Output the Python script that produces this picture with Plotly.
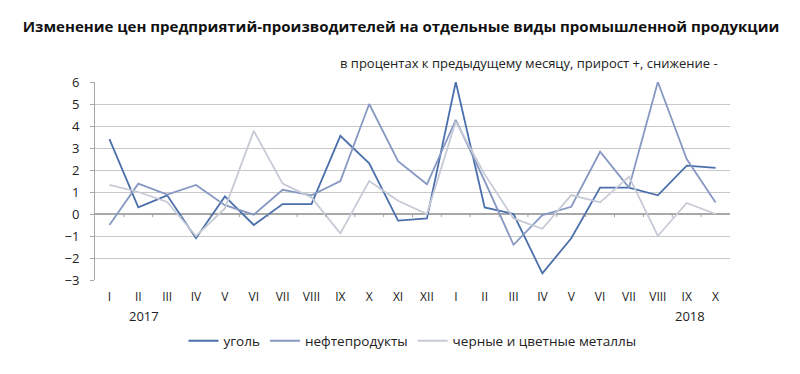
import plotly.graph_objects as go

months = ["I", "II", "III", "IV", "V", "VI", "VII", "VIII", "IX", "X", "XI", "XII",
          "I", "II", "III", "IV", "V", "VI", "VII", "VIII", "IX", "X"]
years = ["2017", "2018"]

coal = [3.4, 0.3, 0.85, -1.1, 0.8, -0.5, 0.45, 0.45, 3.55, 2.3, -0.3, -0.2,
        6.0, 0.3, 0.0, -2.7, -1.1, 1.2, 1.2, 0.85, 2.2, 2.1]
oil = [-0.5, 1.38, 0.88, 1.32, 0.4, -0.03, 1.1, 0.85, 1.5, 5.0, 2.4, 1.35,
       4.28, 1.5, -1.4, -0.05, 0.33, 2.83, 1.2, 6.0, 2.5, 0.52]
metals = [1.32, 1.0, 0.55, -1.0, 0.25, 3.78, 1.38, 0.75, -0.88, 1.5, 0.6, 0.0,
          4.2, 1.8, -0.2, -0.67, 0.86, 0.53, 1.7, -1.0, 0.5, 0.0]

names = ["уголь", "нефтепродукты", "черные и цветные металлы"]
colors = ["#4a6fab", "#8799c2", "#c5cad6"]
series = [coal, oil, metals]

idx = list(range(len(months)))
boundaries = [i + 0.5 for i in idx[:-1]]

FONT = "Open Sans"
OFF = 8  # page body margin offset

fig = go.Figure()
for name, vals, col in zip(names, series, colors):
    fig.add_trace(go.Scatter(x=idx, y=vals, mode="lines", name=name,
                             line=dict(color=col, width=1.8)))

fig.update_layout(
    width=800, height=374,
    margin=dict(l=95 - OFF, r=800 - (730 - OFF), t=82 - OFF, b=374 - (280 - OFF)),
    paper_bgcolor="white", plot_bgcolor="white",
    font=dict(family=FONT, color="#222"),
    title=dict(text="<b>Изменение цен предприятий-производителей на отдельные виды промышленной продукции</b>",
               x=(401 - OFF) / 800, xref="container", xanchor="center",
               y=1 - (27 - OFF) / 374, yref="container", yanchor="middle",
               font=dict(family=FONT, size=15, color="#111")),
    showlegend=True,
    legend=dict(orientation="h", x=0.5, xanchor="center", y=-0.308, yanchor="middle",
                font=dict(family=FONT, size=13.5, color="#222"),
                traceorder="normal"),
    xaxis=dict(range=[-0.5, len(months) - 0.5], tickmode="array", tickvals=idx,
               ticktext=months, showgrid=False, zeroline=False, showline=False,
               ticks="", tickfont=dict(size=12, color="#222"), ticklabelstandoff=8),
    yaxis=dict(range=[-3, 6], dtick=1, showgrid=True, gridcolor="#c8c8c8", gridwidth=1.2,
               zeroline=True, zerolinecolor="#a8a8a8", zerolinewidth=1.5,
               showline=True, linecolor="#a8a8a8", linewidth=1,
               ticks="outside", ticklen=4, tickcolor="#a8a8a8",
               tickfont=dict(size=13, color="#222"), ticklabelstandoff=8),
)

for b in boundaries:
    fig.add_shape(type="line", xref="x", yref="y", x0=b, x1=b, y0=0, y1=-0.14,
                  line=dict(color="#a0a0a0", width=1))

fig.add_annotation(text="в процентах к предыдущему месяцу, прирост +, снижение -",
                   xref="paper", yref="paper", x=(720 - 95) / 635, y=(280 - 63) / 198,
                   xanchor="right", yanchor="middle", showarrow=False,
                   font=dict(family=FONT, size=13, color="#222"))
for yr, xpos in zip(years, [1.2, 20.1]):
    fig.add_annotation(text=yr, xref="x", yref="paper", x=xpos, y=(280 - 316) / 198,
                       xanchor="center", yanchor="middle", showarrow=False,
                       font=dict(family=FONT, size=13, color="#222"))

fig.write_html("out.html")
